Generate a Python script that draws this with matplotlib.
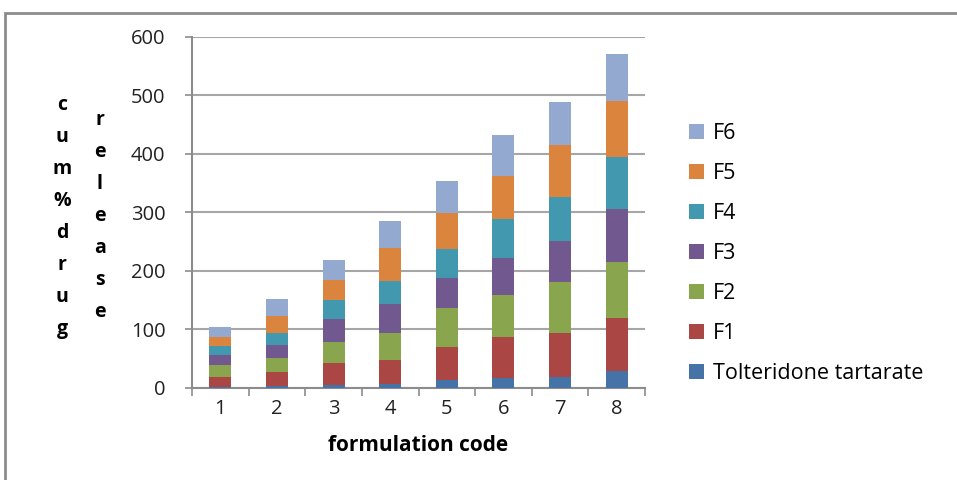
import numpy as np
import matplotlib
matplotlib.use('Agg')
from matplotlib import pyplot as plt
from matplotlib.patches import Rectangle

plt.rcParams['font.family'] = ['Open Sans', 'DejaVu Sans']

# data
codes = ['1', '2', '3', '4', '5', '6', '7', '8']
series_names = ['Tolteridone tartarate', 'F1', 'F2', 'F3', 'F4', 'F5', 'F6']
tolteridone = [0.5, 3, 5, 7, 14, 17, 18, 28]
f1 = [18.5, 24, 36.5, 41, 56, 69, 75, 91]
f2 = [19, 23, 37.5, 46, 67, 72, 87, 96]
f3 = [18, 23.5, 38, 49, 51, 64, 71, 90]
f4 = [14.5, 20.5, 33, 40, 50, 66, 75, 90]
f5 = [16.5, 29.5, 34.5, 56, 61, 74, 89, 96]
f6 = [16, 28.5, 34.5, 47, 54, 71, 74, 80]
colors = ['#4572A7', '#AA4643', '#89A54E', '#71588F', '#4198AF', '#DB843D', '#93A9CF']

fig = plt.figure(figsize=(9.57, 4.8), dpi=100)
ax = fig.add_axes([192/957, 1 - 387.7/480, 453/957, 350.7/480])

x = np.arange(len(codes))
bottom = np.zeros(len(codes))
bars = []
for name, vals, c in zip(series_names, [tolteridone, f1, f2, f3, f4, f5, f6], colors):
    b = ax.bar(x, vals, width=0.39, bottom=bottom, color=c, label=name, zorder=3)
    bars.append(b)
    bottom += np.array(vals)

ax.set_xlim(-0.5, len(codes) - 0.5)
ax.set_ylim(0, 600)
ax.set_yticks(range(0, 601, 100))
ax.set_xticks(x)
ax.set_xticklabels(codes)
ax.set_xticks(np.arange(-0.5, len(codes)), minor=True)
ax.tick_params(axis='x', which='major', length=0, pad=8, labelsize=14.5, labelcolor='#222222')
ax.tick_params(axis='x', which='minor', length=6, width=1.2, color='#8c8c8c', direction='out')
ax.tick_params(axis='y', length=5, width=1.2, color='#8c8c8c', pad=14, labelsize=14.5, labelcolor='#222222')
ax.grid(axis='y', color='#a6a6a6', linewidth=1.5, zorder=0)
for s in ['top', 'right']:
    ax.spines[s].set_visible(False)
for s in ['left', 'bottom']:
    ax.spines[s].set_color('#8c8c8c')
    ax.spines[s].set_linewidth(1.5)

ax.set_xlabel('formulation code', fontsize=15, fontweight='bold', labelpad=12)

# stacked letters of the y label
for i, ch in enumerate('cum%drug'):
    fig.text(62/957, 1 - (105 + i*32)/480, ch, ha='center', va='center', fontsize=14, fontweight='bold')
for i, ch in enumerate('release'):
    fig.text(100/957, 1 - (120 + i*32)/480, ch, ha='center', va='center', fontsize=14, fontweight='bold')

ax.legend(bars[::-1], series_names[::-1], loc='upper left', bbox_to_anchor=(670/957, 1 - 104/480),
          bbox_transform=fig.transFigure, frameon=False, fontsize=15.5, handlelength=0.7,
          handleheight=0.7, handletextpad=0.4, labelspacing=0.88)

fig.patches.append(Rectangle((5/957, -0.1), 1.2, 1 - 13/480 + 0.1, transform=fig.transFigure,
                             fill=False, edgecolor='#8c8c8c', linewidth=2))

fig.savefig('out.png', dpi=100)
